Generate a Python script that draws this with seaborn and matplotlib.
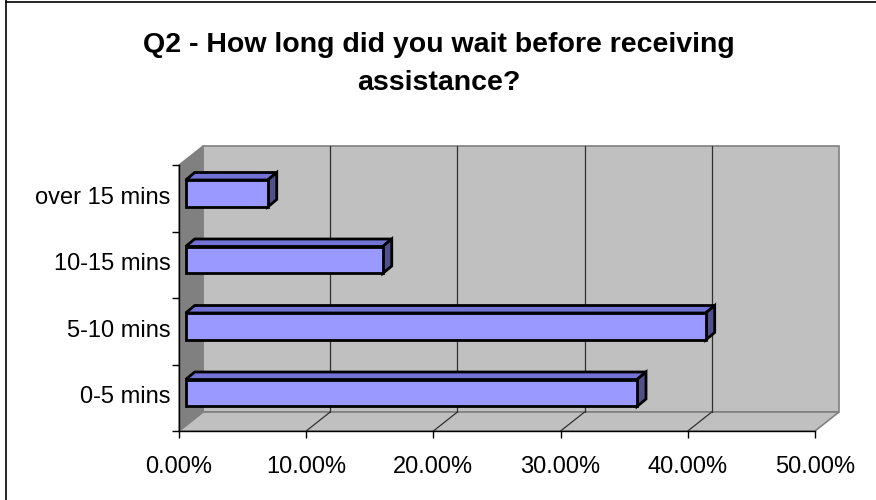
import matplotlib
matplotlib.use("Agg")
import matplotlib.pyplot as plt
import pandas as pd
import seaborn as sns
from matplotlib.patches import Polygon
from matplotlib.lines import Line2D
from matplotlib.transforms import ScaledTranslation, IdentityTransform
from matplotlib.ticker import FixedLocator, FuncFormatter

# Survey answers (share of respondents, %)
categories = ["over 15 mins", "10-15 mins", "5-10 mins", "0-5 mins"]
share_pct = [6.45, 15.49, 40.88, 35.48]
x_ticks = [0, 10, 20, 30, 40, 50]
title = "Q2 - How long did you wait before receiving\nassistance?"

df = pd.DataFrame({"wait": categories, "share": share_pct})

sns.set_theme(style="white")
plt.rcParams["font.family"] = ["Liberation Sans", "DejaVu Sans"]

W, H, DPI = 876, 500, 100
fig = plt.figure(figsize=(W / DPI, H / DPI), dpi=DPI)
fig.patch.set_facecolor("white")

# front plane of the plotting box, pixel coords from top-left
L, R, T, B = 179, 815, 165, 431
ax = fig.add_axes([L / W, 1 - B / H, (R - L) / W, (B - T) / H])
ax.patch.set_visible(False)

sns.barplot(data=df, y="wait", x="share", order=categories, orient="h",
            width=0.406, color="#9999ff", saturation=1,
            edgecolor="black", linewidth=2.0, ax=ax)
ax.set_xlim(x_ticks[0], x_ticks[-1])
ax.set_ylim(len(categories) - 0.5, -0.5)
ax.set_xlabel("")
ax.set_ylabel("")

# 3-D look: wall depth and bar placement in pixels (x right, y up)
WALL_DX, WALL_DY = 24, 19
FRONT_DX, FRONT_DY = 6.7, 4.75
BAR_DX, BAR_DY = 9, 7.5


def disp(x, y, ox=0.0, oy=0.0):
    px, py = ax.transData.transform((x, y))
    return (px + ox, py + oy)


def add_poly(pts, fc, ec, lw, z):
    poly = Polygon(pts, closed=True, facecolor=fc, edgecolor=ec, linewidth=lw,
                   transform=IdentityTransform(), clip_on=False, zorder=z,
                   joinstyle="miter")
    ax.add_patch(poly)


bars = list(ax.patches)

x0, x1 = x_ticks[0], x_ticks[-1]
ylo, yhi = len(categories) - 0.5, -0.5  # bottom, top in data

# back wall, left wall, floor
add_poly([disp(x0, ylo, WALL_DX, WALL_DY), disp(x1, ylo, WALL_DX, WALL_DY),
          disp(x1, yhi, WALL_DX, WALL_DY), disp(x0, yhi, WALL_DX, WALL_DY)],
         "#c0c0c0", "#808080", 1.2, 0.2)
add_poly([disp(x0, ylo), disp(x0, yhi), disp(x0, yhi, WALL_DX, WALL_DY),
          disp(x0, ylo, WALL_DX, WALL_DY)],
         "#808080", "#808080", 1.0, 0.3)
add_poly([disp(x0, ylo), disp(x1, ylo), disp(x1, ylo, WALL_DX, WALL_DY),
          disp(x0, ylo, WALL_DX, WALL_DY)],
         "#c0c0c0", "#808080", 1.2, 0.25)

# gridlines on back wall and floor
for v in x_ticks[1:-1]:
    a = disp(v, ylo, WALL_DX, WALL_DY)
    b = disp(v, yhi, WALL_DX, WALL_DY)
    c = disp(v, ylo)
    for p, q in ((a, b), (c, a)):
        ax.add_line(Line2D([p[0], q[0]], [p[1], q[1]], color="#303030",
                           linewidth=0.9, transform=IdentityTransform(),
                           clip_on=False, zorder=0.5))

# bars: shift front faces into depth, add top and side faces
shift = ScaledTranslation(FRONT_DX / DPI, FRONT_DY / DPI, fig.dpi_scale_trans)
for p in bars:
    bx, by, bw, bh = p.get_x(), p.get_y(), p.get_width(), p.get_height()
    p.set_transform(ax.transData + shift)
    p.set_clip_on(False)
    p.set_zorder(3)
    p.set_joinstyle("miter")
    ya, yb = by, by + bh
    if disp(0, ya)[1] < disp(0, yb)[1]:
        ya, yb = yb, ya
    ytop, ybot = ya, yb
    fx, fy = FRONT_DX, FRONT_DY
    top = [disp(bx, ytop, fx, fy), disp(bx + bw, ytop, fx, fy),
           disp(bx + bw, ytop, fx + BAR_DX, fy + BAR_DY),
           disp(bx, ytop, fx + BAR_DX, fy + BAR_DY)]
    side = [disp(bx + bw, ytop, fx, fy), disp(bx + bw, ybot, fx, fy),
            disp(bx + bw, ybot, fx + BAR_DX, fy + BAR_DY),
            disp(bx + bw, ytop, fx + BAR_DX, fy + BAR_DY)]
    add_poly(top, "#7373d6", "black", 2.0, 2.9)
    add_poly(side, "#50508c", "black", 2.0, 2.9)

# axes lines and ticks
for s in ("top", "right"):
    ax.spines[s].set_visible(False)
for s in ("left", "bottom"):
    ax.spines[s].set_color("black")
    ax.spines[s].set_linewidth(1.0)
    ax.spines[s].set_zorder(4)

ax.set_xticks(x_ticks)
ax.xaxis.set_major_formatter(FuncFormatter(lambda v, _: f"{v:.2f}%"))
ax.tick_params(axis="x", which="major", bottom=True, length=5, width=1,
               color="black", direction="out", pad=13, labelsize=17,
               labelcolor="black")
ax.yaxis.set_minor_locator(FixedLocator([i - 0.5 for i in range(len(categories) + 1)]))
ax.tick_params(axis="y", which="major", left=False, length=0, pad=6,
               labelsize=17, labelcolor="black")
ax.tick_params(axis="y", which="minor", left=True, length=5, width=1,
               color="black", direction="out")
# labels sit a little above the band centres
for lab in ax.get_yticklabels():
    lab.set_transform(lab.get_transform() +
                      ScaledTranslation(0, 3 / DPI, fig.dpi_scale_trans))

fig.text(439 / W, 1 - 64 / H, title, ha="center", va="center",
         fontsize=20.5, fontweight="bold", linespacing=1.55, color="black")

# chart frame
fig.add_artist(Line2D([5.5 / W, 5.5 / W], [0, 1], transform=fig.transFigure,
                      color="black", linewidth=1.2))
fig.add_artist(Line2D([5.5 / W, 1], [1 - 1.5 / H, 1 - 1.5 / H],
                      transform=fig.transFigure, color="black", linewidth=1.2))

fig.savefig("out.png", dpi=DPI, facecolor="white")
